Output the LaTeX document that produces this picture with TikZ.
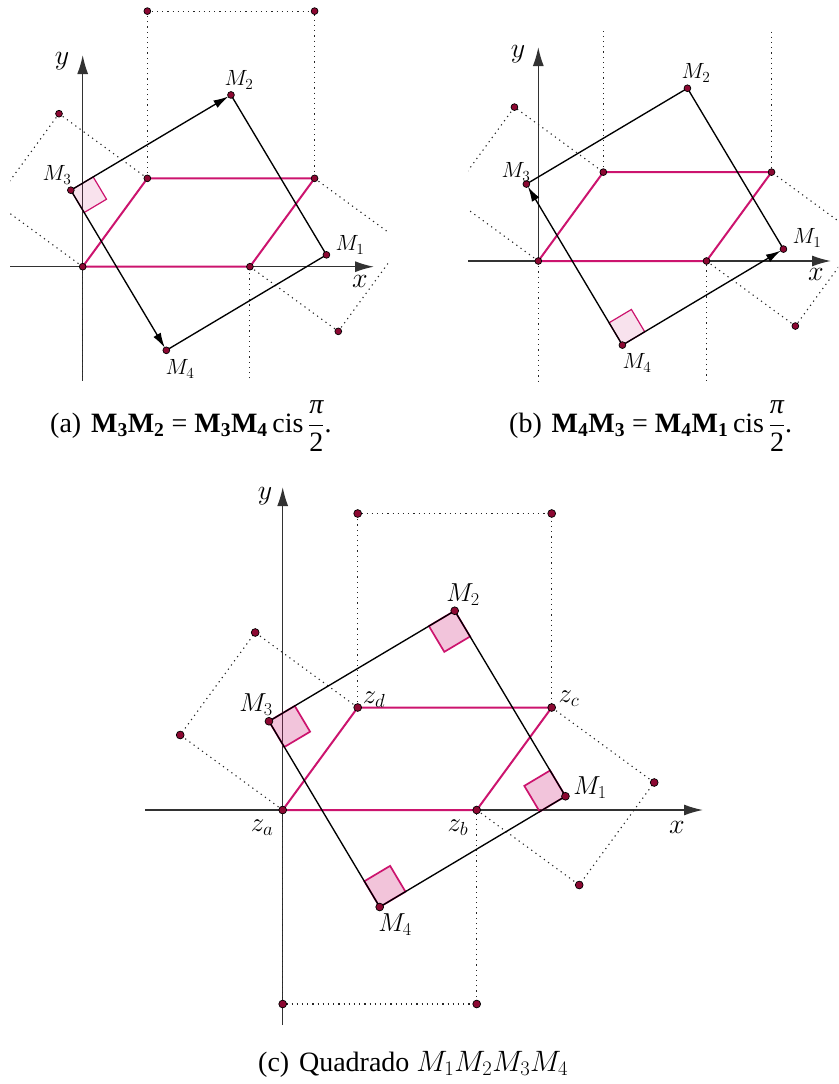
\documentclass[tikz,border=0pt]{standalone}
\usepackage{fix-cm}
\usepackage{fontspec}
\newfontfamily\tms{Liberation Serif}
\usetikzlibrary{arrows.meta,calc}
\definecolor{mag}{RGB}{204,20,110}
\definecolor{dotc}{RGB}{140,8,50}
\definecolor{axc}{RGB}{50,50,50}
\tikzset{
  ax/.style={line width=1.5pt, draw=axc, -{Latex[length=19pt,width=11pt]}},
  dots/.style={line width=1.1pt, dash pattern=on 1.2pt off 4pt, draw=black!85},
  par/.style={draw=mag, line width=2pt, line join=round},
  side/.style={draw=black, line width=1.35pt},
  vec/.style={side, shorten >=3pt, -{Latex[length=15pt,width=8.5pt]}},
  pt/.style={circle, fill=dotc, draw=black, line width=0.7pt, inner sep=0pt, minimum size=#1},
  pt/.default=7pt,
  rmk/.style={draw=mag, line width=#1},
  lblS/.style={font=\fontsize{22}{25}\selectfont},
  lblM/.style={font=\fontsize{26}{30}\selectfont},
  lblZ/.style={font=\fontsize{27}{31}\selectfont},
  lblX/.style={font=\fontsize{28}{33}\selectfont},
  captext/.style={anchor=base west, font=\tms\fontsize{28}{32}\selectfont, inner sep=0pt},
}
\newcommand\mkgeom[1]{%
  \coordinate (#1a) at (0,0);
  \coordinate (#1b) at (194,0);
  \coordinate (#1d) at (75,102.5);
  \coordinate (#1c) at (269,102.5);
  \coordinate (#1ba) at (0,-194);
  \coordinate (#1bb) at (194,-194);
  \coordinate (#1rb) at (296.5,-75);
  \coordinate (#1rc) at (371.5,27.5);
  \coordinate (#1td) at (75,296.5);
  \coordinate (#1tc) at (269,296.5);
  \coordinate (#1la) at (-102.5,75);
  \coordinate (#1ld) at (-27.5,177.5);
  \coordinate (#1M1) at (282.75,13.75);
  \coordinate (#1M2) at (172,199.25);
  \coordinate (#1M3) at (-13.75,88.75);
  \coordinate (#1M4) at (97,-97);
}
% right-angle mark: corner, neighbour1, neighbour2, size, opacity, line width
\newcommand\rmark[6]{%
  \path ($(#1)!#4!(#2)$) coordinate (#1p) ($(#1)!#4!(#3)$) coordinate (#1q);
  \path ($(#1p)+(#1q)-(#1)$) coordinate (#1r);
  \fill[mag, fill opacity=#5] (#1) -- (#1p) -- (#1r) -- (#1q) -- cycle;
  \draw[rmk=#6] (#1) -- (#1p) -- (#1r) -- (#1q) -- cycle;
}
\newcommand\sqdots[1]{%
  \fill[white] (#1a) -- (#1ba) -- (#1bb) -- (#1b) -- cycle;
  \draw[dots] (#1a) -- (#1ba) -- (#1bb) -- (#1b);
}
\newcommand\othersq[1]{%
  \draw[dots] (#1b) -- (#1rb) -- (#1rc) -- (#1c);
  \draw[dots] (#1d) -- (#1td) -- (#1tc) -- (#1c);
  \draw[dots] (#1a) -- (#1la) -- (#1ld) -- (#1d);
  \draw[par] (#1a) -- (#1b) -- (#1c) -- (#1d) -- cycle;
}
\begin{document}
\begin{tikzpicture}[x=1pt,y=1pt]
\useasboundingbox (0,0) rectangle (838,-1084);

% ---------------- panel (a)
\begin{scope}
  \clip (10,0) rectangle (388,-380);
  \begin{scope}[shift={(82.7,-266.7)},scale=0.862]\mkgeom{A}\end{scope}
  \coordinate (Ay0) at (82.7,-400); \coordinate (Ay1) at (82.7,-55);
  \coordinate (Ax0) at (10,-266.7); \coordinate (Ax1) at (374,-266.7);
  \draw[ax] (Ay0) -- (Ay1);
  \sqdots{A}
  \draw[ax] (Ax0) -- (Ax1);
  \othersq{A}
  \rmark{AM3}{AM2}{AM4}{26pt}{0.12}{1.2pt}
  \draw[vec] (AM3) -- (AM2);
  \draw[vec] (AM3) -- (AM4);
  \draw[side] (AM2) -- (AM1) -- (AM4);
  \foreach \p in {Aa,Ab,Ac,Ad,Ald,Atd,Atc,Arb,AM1,AM2,AM3,AM4}
    \node[pt=6.8pt] (dot\p) at (\p) {};
\end{scope}
\node[lblX] (Aylab) at (62,-61) {$y$};
\node[lblX] (Axlab) at (360,-281) {$x$};
\node[lblS] (AM2lab) at (239,-80) {$M_2$};
\node[lblS] (AM3lab) at (57,-175) {$M_3$};
\node[lblS] (AM1lab) at (350,-245) {$M_1$};
\node[lblS] (AM4lab) at (180,-369) {$M_4$};

% ---------------- panel (b)
\begin{scope}
  \clip (468,-30) rectangle (838,-382);
  \begin{scope}[shift={(538.3,-261)},scale=0.867]\mkgeom{B}\end{scope}
  \coordinate (By0) at (538.3,-400); \coordinate (By1) at (538.3,-47);
  \coordinate (Bx0) at (468,-261); \coordinate (Bx1) at (831,-261);
  \draw[ax] (By0) -- (By1);
  \sqdots{B}
  \draw[ax] (Bx0) -- (Bx1);
  \othersq{B}
  \rmark{BM4}{BM3}{BM1}{26pt}{0.12}{1.2pt}
  \draw[vec] (BM4) -- (BM3);
  \draw[vec] (BM4) -- (BM1);
  \draw[side] (BM3) -- (BM2) -- (BM1);
  \foreach \p in {Ba,Bb,Bc,Bd,Bld,Btd,Btc,Brb,BM1,BM2,BM3,BM4}
    \node[pt=6.8pt] (dot\p) at (\p) {};
\end{scope}
\node[lblX] (Bylab) at (518,-54) {$y$};
\node[lblX] (Bxlab) at (816,-274) {$x$};
\node[lblS] (BM2lab) at (696,-73) {$M_2$};
\node[lblS] (BM3lab) at (516,-172) {$M_3$};
\node[lblS] (BM1lab) at (807,-238) {$M_1$};
\node[lblS] (BM4lab) at (637,-363) {$M_4$};

% captions (a), (b)
\node[captext] (capa) at (50,-432) {(a)\hspace{0.35em}\textbf{M\textsubscript{3}M\textsubscript{2}} = \textbf{M\textsubscript{3}M\textsubscript{4}}\,cis\,$\displaystyle\frac{\hbox{\itshape π}}{\hbox{2}}$.};
\node[captext] (capb) at (509,-432) {(b)\hspace{0.35em}\textbf{M\textsubscript{4}M\textsubscript{3}} = \textbf{M\textsubscript{4}M\textsubscript{1}}\,cis\,$\displaystyle\frac{\hbox{\itshape π}}{\hbox{2}}$.};

% ---------------- panel (c)
\begin{scope}[shift={(282.7,-810)}]\mkgeom{C}\end{scope}
\coordinate (Cy0) at (282.7,-1025); \coordinate (Cy1) at (282.7,-487);
\coordinate (Cx0) at (145,-810); \coordinate (Cx1) at (703,-810);
\draw[ax] (Cy0) -- (Cy1);
\sqdots{C}
\draw[ax] (Cx0) -- (Cx1);
\othersq{C}
\rmark{CM1}{CM2}{CM4}{30pt}{0.25}{1.7pt}
\rmark{CM2}{CM3}{CM1}{30pt}{0.25}{1.7pt}
\rmark{CM3}{CM4}{CM2}{30pt}{0.25}{1.7pt}
\rmark{CM4}{CM1}{CM3}{30pt}{0.25}{1.7pt}
\draw[side] (CM1) -- (CM2) -- (CM3) -- (CM4) -- cycle;
\foreach \p in {Ca,Cb,Cc,Cd,Cla,Cld,Ctd,Ctc,Crb,Crc,Cba,Cbb,CM1,CM2,CM3,CM4}
  \node[pt=7.8pt] (dot\p) at (\p) {};
\node[lblX] (Cylab) at (265,-496) {$y$};
\node[lblX] (Cxlab) at (677,-827) {$x$};
\node[lblZ] (Czalab) at (262,-828) {$z_a$};
\node[lblZ] (Czblab) at (458,-828) {$z_b$};
\node[lblZ] (Czclab) at (569,-699) {$z_c$};
\node[lblZ] (Czdlab) at (374,-700) {$z_d$};
\node[lblM] (CM3lab) at (256,-705) {$M_3$};
\node[lblM] (CM2lab) at (463,-595) {$M_2$};
\node[lblM] (CM1lab) at (590,-788) {$M_1$};
\node[lblM] (CM4lab) at (395,-925) {$M_4$};

\node[captext] (capc) at (258,-1071) {(c)\hspace{0.35em}Quadrado {\fontsize{29.5}{33}\selectfont$M_1M_2M_3M_4$}};
\end{tikzpicture}
\end{document}
